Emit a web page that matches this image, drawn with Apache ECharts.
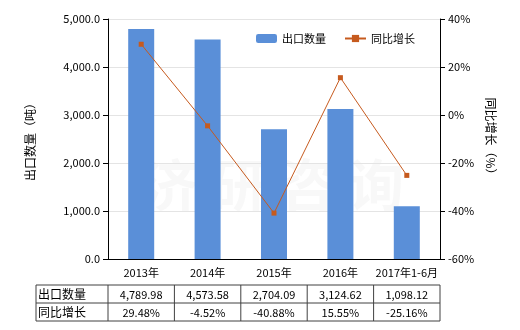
<!DOCTYPE html>
<html><head><meta charset="utf-8">
<script src="https://cdn.jsdelivr.net/npm/echarts@6/dist/echarts.min.js"></script>
<style>html,body{margin:0;padding:0;background:#fff}#c{width:520px;height:330px}</style>
</head><body><div id="c"></div>
<script>
var categories = ['2013年','2014年','2015年','2016年','2017年1-6月'];
var exportQty = [4789.98, 4573.58, 2704.09, 3124.62, 1098.12];
var yoyGrowth = [29.48, -4.52, -40.88, 15.55, -25.16];
var seriesNames = ['出口数量','同比增长'];
var leftTicks = {min:0, max:5000, interval:1000};
var rightTicks = {min:-60, max:40, interval:20};

var FONT = '"Noto Sans CJK SC", "Noto Sans", sans-serif';
var chart = echarts.init(document.getElementById('c'), null, {renderer:'canvas'});
function fmt2(v){return v.toLocaleString('en-US',{minimumFractionDigits:2,maximumFractionDigits:2});}
var option = {
  animation:false,
  textStyle:{fontFamily:FONT},
  grid:{left:108,right:80,top:19,bottom:71},
  legend:{
    top:28, left:251, itemWidth:21, itemHeight:9, itemGap:18,
    textStyle:{fontSize:11,color:'#000',fontFamily:FONT},
    data:[{name:seriesNames[0]},{name:seriesNames[1]}]
  },
  xAxis:{
    type:'category', data:categories,
    axisLine:{lineStyle:{color:'#000'}},
    axisTick:{alignWithLabel:true,lineStyle:{color:'#000'}},
    axisLabel:{color:'#000',fontSize:11,margin:8,interval:0,fontFamily:FONT}
  },
  yAxis:[{
    type:'value', min:leftTicks.min, max:leftTicks.max, interval:leftTicks.interval,
    name:'出口数量（吨）', nameLocation:'middle', nameGap:72, nameRotate:90,
    nameTextStyle:{fontSize:12,color:'#000',fontFamily:FONT},
    axisLine:{show:true,lineStyle:{color:'#000'}},
    axisTick:{show:true,lineStyle:{color:'#000'}},
    axisLabel:{color:'#000',fontSize:11,fontFamily:FONT,formatter:function(v){return v.toLocaleString('en-US',{minimumFractionDigits:1,maximumFractionDigits:1});}},
    splitLine:{lineStyle:{color:'#e4e4e4'}}
  },{
    type:'value', min:rightTicks.min, max:rightTicks.max, interval:rightTicks.interval,
    name:'同比增长（%）', nameLocation:'middle', nameGap:44, nameRotate:-90,
    nameTextStyle:{fontSize:12,color:'#000',fontFamily:FONT},
    axisLine:{show:true,lineStyle:{color:'#000'}},
    axisTick:{show:true,lineStyle:{color:'#000'}},
    axisLabel:{color:'#000',fontSize:11,fontFamily:FONT,formatter:'{value}%'},
    splitLine:{show:false}
  }],
  series:[{
    name:seriesNames[0], type:'bar', data:exportQty, barWidth:26,
    itemStyle:{color:'#5a8fd8'}
  },{
    name:seriesNames[1], type:'line', yAxisIndex:1, data:yoyGrowth,
    symbol:'rect', symbolSize:5,
    lineStyle:{color:'#c65a1e',width:1},
    itemStyle:{color:'#c65a1e'}
  }]
};
chart.setOption(option);

// Table below chart
var tableLeft = 36, rowTop = 285, rowH = 18;
var xs = categories.map(function(c,i){return chart.convertToPixel({xAxisIndex:0}, i);});
var step = xs[1]-xs[0];
var colEdges = [tableLeft, xs[0]-step/2];
xs.forEach(function(x){colEdges.push(x+step/2);});
var tableRight = colEdges[colEdges.length-1];
var g = [];
var lc = '#404040';
for (var r=0;r<=2;r++) g.push({type:'line',shape:{x1:tableLeft,y1:rowTop+r*rowH,x2:tableRight,y2:rowTop+r*rowH},style:{stroke:lc,lineWidth:1}});
colEdges.forEach(function(x){g.push({type:'line',shape:{x1:x,y1:rowTop,x2:x,y2:rowTop+2*rowH},style:{stroke:lc,lineWidth:1}});});
var rows = [
  {label:seriesNames[0], vals:exportQty.map(fmt2)},
  {label:seriesNames[1], vals:yoyGrowth.map(function(v){return v.toFixed(2)+'%';})}
];
rows.forEach(function(row,r){
  var cy = rowTop + r*rowH + rowH/2;
  g.push({type:'text',style:{x:tableLeft+2,y:cy,text:row.label,fontSize:12,fontFamily:FONT,fill:'#000',textVerticalAlign:'middle',verticalAlign:'middle'}});
  row.vals.forEach(function(v,i){
    g.push({type:'text',style:{x:xs[i],y:cy+1,text:v,fontSize:11,fontFamily:FONT,fill:'#000',textAlign:'center',align:'center',textVerticalAlign:'middle',verticalAlign:'middle'}});
  });
});
// faint watermark
g.push({type:'text',z:-1,style:{x:273,y:185,text:'济 研 咨 询',fontSize:56,fontWeight:'bold',fontFamily:FONT,fill:'rgba(200,200,200,0.12)',textAlign:'center',align:'center',textVerticalAlign:'middle',verticalAlign:'middle'}});
chart.setOption({graphic:g});
</script></body></html>
